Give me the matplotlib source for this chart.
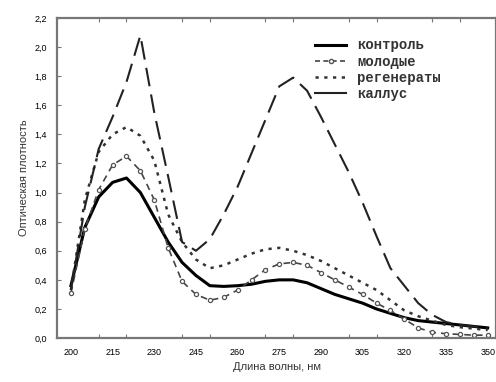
import numpy as np
import matplotlib
matplotlib.use('Agg')
import matplotlib.pyplot as plt
from matplotlib.lines import Line2D

plt.rcParams['font.family'] = ['Liberation Sans', 'DejaVu Sans']

wl = [200, 205, 210, 215, 220, 225, 230, 235, 240, 245, 250, 255, 260, 265, 270,
      275, 280, 285, 290, 295, 300, 305, 310, 315, 320, 325, 330, 335, 340, 345, 350]
kontrol = [0.36, 0.76, 0.97, 1.07, 1.10, 1.00, 0.83, 0.66, 0.52, 0.43, 0.36, 0.355, 0.36, 0.37, 0.39,
           0.40, 0.40, 0.38, 0.34, 0.30, 0.27, 0.24, 0.20, 0.17, 0.14, 0.12, 0.11, 0.10, 0.09, 0.08, 0.07]
molodye = [0.31, 0.75, 1.02, 1.19, 1.25, 1.15, 0.95, 0.62, 0.39, 0.30, 0.26, 0.28, 0.33, 0.40, 0.47,
           0.51, 0.52, 0.50, 0.45, 0.40, 0.35, 0.30, 0.24, 0.19, 0.13, 0.07, 0.04, 0.03, 0.025, 0.02, 0.02]
regeneraty = [0.33, 0.95, 1.28, 1.40, 1.45, 1.39, 1.22, 0.85, 0.66, 0.54, 0.48, 0.50, 0.54, 0.58, 0.61,
              0.62, 0.60, 0.57, 0.53, 0.48, 0.43, 0.38, 0.33, 0.26, 0.19, 0.15, 0.12, 0.09, 0.075, 0.065, 0.055]
kallus = [0.33, 0.90, 1.30, 1.52, 1.76, 2.08, 1.55, 1.11, 0.66, 0.60, 0.68, 0.85, 1.04, 1.27, 1.50,
          1.73, 1.79, 1.70, 1.52, 1.33, 1.14, 0.93, 0.70, 0.48, 0.36, 0.24, 0.16, 0.11, 0.09, 0.08, 0.065]
names = ['контроль', 'молодые', 'регенераты', 'каллус']

xlabels = [200, 215, 230, 245, 260, 275, 290, 305, 320, 335, 350]
yticks = [0.0, 0.2, 0.4, 0.6, 0.8, 1.0, 1.2, 1.4, 1.6, 1.8, 2.0, 2.2]

fig = plt.figure(figsize=(4.96, 3.82), dpi=100)
ax = fig.add_axes([0.115, 0.115, 0.885, 0.838])

ax.plot(wl, kontrol, '-', color='black', lw=2.2)
ax.plot(wl, molodye, '--', color='#444444', lw=1.2, dashes=(4, 3),
        marker='o', ms=3, mfc='white', mec='#555555', mew=0.9)
ax.plot(wl, regeneraty, '-', color='#333333', lw=1.8, dashes=(1.3, 2.2))
ax.plot(wl, kallus, '-', color='#222222', lw=1.5, dashes=(9, 4))

ax.set_xlim(195, 353)
ax.set_ylim(0, 2.2)
ax.set_xticks(xlabels)
ax.set_xticklabels([str(v) for v in xlabels])
ax.set_xticks(np.arange(200, 351, 10), minor=True)
ax.tick_params(axis='x', which='major', length=0, labelsize=6.5, pad=7)
ax.tick_params(axis='x', which='minor', length=3, direction='in', top=True, width=0.8, color='#777777')
ax.set_yticks(yticks)
ax.set_yticklabels([('%.1f' % v).replace('.', ',') for v in yticks])
ax.tick_params(axis='y', which='major', length=3, direction='in', labelsize=6.5, width=0.8,
               color='#777777', pad=7)
for s in ax.spines.values():
    s.set_color('#777777')
    s.set_linewidth(1.6)

ax.set_xlabel('Длина волны, нм', fontsize=8, color='#333333')
ax.set_ylabel('Оптическая плотность', fontsize=8, color='#333333', labelpad=4)

handles = [Line2D([], [], color='black', lw=2.2),
           Line2D([], [], color='#444444', lw=1.2, ls='--', dashes=(3, 2), marker='o', ms=3,
                  mfc='white', mec='#555555'),
           Line2D([], [], color='#333333', lw=1.8, ls='-', dashes=(1.3, 2.2)),
           Line2D([], [], color='#222222', lw=1.5)]
leg = ax.legend(handles, names, loc='upper left', bbox_to_anchor=(0.56, 0.975), frameon=False,
                prop={'family': 'Liberation Mono', 'weight': 'bold', 'size': 10},
                handlelength=2.2, handletextpad=0.8, labelspacing=0.15)
for t in leg.get_texts():
    t.set_color('#333333')

fig.savefig('out.png', dpi=100)
